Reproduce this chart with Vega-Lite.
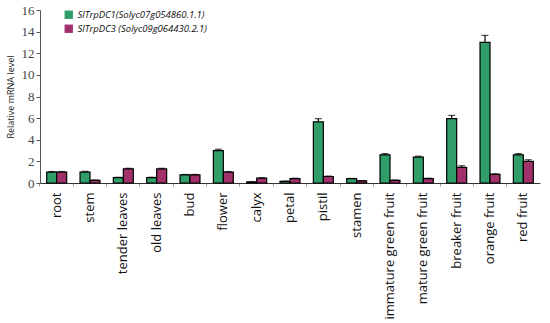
{
  "$schema": "https://vega.github.io/schema/vega-lite/v6.json",
  "width": 500,
  "height": 173,
  "autosize": {"type": "none"},
  "padding": {"left": 40, "top": 10, "right": 10, "bottom": 140},
  "background": "white",
  "config": {
    "view": {"stroke": null},
    "axisY": {
      "titleFont": "Open Sans",
      "titleFontSize": 9,
      "titleFontWeight": "normal",
      "titleColor": "#222",
      "titlePadding": 6,
      "grid": false,
      "labelOverlap": false,
      "labelFont": "Liberation Serif",
      "labelFontSize": 13,
      "labelColor": "#444",
      "tickSize": 4,
      "tickColor": "#555",
      "domainColor": "#555"
    }
  },
  "data": {
    "values": [
      {"tissue": "root", "gene": "SlTrpDC1(Solyc07g054860.1.1)", "value": 1.0, "err": 0.06},
      {"tissue": "root", "gene": "SlTrpDC3 (Solyc09g064430.2.1)", "value": 1.0, "err": 0.06},
      {"tissue": "stem", "gene": "SlTrpDC1(Solyc07g054860.1.1)", "value": 1.0, "err": 0.08},
      {"tissue": "stem", "gene": "SlTrpDC3 (Solyc09g064430.2.1)", "value": 0.25, "err": 0.03},
      {"tissue": "tender leaves", "gene": "SlTrpDC1(Solyc07g054860.1.1)", "value": 0.5, "err": 0.03},
      {"tissue": "tender leaves", "gene": "SlTrpDC3 (Solyc09g064430.2.1)", "value": 1.3, "err": 0.06},
      {"tissue": "old leaves", "gene": "SlTrpDC1(Solyc07g054860.1.1)", "value": 0.5, "err": 0.03},
      {"tissue": "old leaves", "gene": "SlTrpDC3 (Solyc09g064430.2.1)", "value": 1.3, "err": 0.06},
      {"tissue": "bud", "gene": "SlTrpDC1(Solyc07g054860.1.1)", "value": 0.75, "err": 0.04},
      {"tissue": "bud", "gene": "SlTrpDC3 (Solyc09g064430.2.1)", "value": 0.75, "err": 0.04},
      {"tissue": "flower", "gene": "SlTrpDC1(Solyc07g054860.1.1)", "value": 3.0, "err": 0.12},
      {"tissue": "flower", "gene": "SlTrpDC3 (Solyc09g064430.2.1)", "value": 1.0, "err": 0.06},
      {"tissue": "calyx", "gene": "SlTrpDC1(Solyc07g054860.1.1)", "value": 0.1, "err": 0.02},
      {"tissue": "calyx", "gene": "SlTrpDC3 (Solyc09g064430.2.1)", "value": 0.45, "err": 0.04},
      {"tissue": "petal", "gene": "SlTrpDC1(Solyc07g054860.1.1)", "value": 0.15, "err": 0.02},
      {"tissue": "petal", "gene": "SlTrpDC3 (Solyc09g064430.2.1)", "value": 0.4, "err": 0.04},
      {"tissue": "pistil", "gene": "SlTrpDC1(Solyc07g054860.1.1)", "value": 5.65, "err": 0.3},
      {"tissue": "pistil", "gene": "SlTrpDC3 (Solyc09g064430.2.1)", "value": 0.6, "err": 0.04},
      {"tissue": "stamen", "gene": "SlTrpDC1(Solyc07g054860.1.1)", "value": 0.4, "err": 0.02},
      {"tissue": "stamen", "gene": "SlTrpDC3 (Solyc09g064430.2.1)", "value": 0.2, "err": 0.02},
      {"tissue": "immature green fruit", "gene": "SlTrpDC1(Solyc07g054860.1.1)", "value": 2.6, "err": 0.12},
      {"tissue": "immature green fruit", "gene": "SlTrpDC3 (Solyc09g064430.2.1)", "value": 0.25, "err": 0.03},
      {"tissue": "mature green fruit", "gene": "SlTrpDC1(Solyc07g054860.1.1)", "value": 2.4, "err": 0.08},
      {"tissue": "mature green fruit", "gene": "SlTrpDC3 (Solyc09g064430.2.1)", "value": 0.4, "err": 0.04},
      {"tissue": "breaker fruit", "gene": "SlTrpDC1(Solyc07g054860.1.1)", "value": 5.95, "err": 0.3},
      {"tissue": "breaker fruit", "gene": "SlTrpDC3 (Solyc09g064430.2.1)", "value": 1.45, "err": 0.15},
      {"tissue": "orange fruit", "gene": "SlTrpDC1(Solyc07g054860.1.1)", "value": 13.0, "err": 0.65},
      {"tissue": "orange fruit", "gene": "SlTrpDC3 (Solyc09g064430.2.1)", "value": 0.8, "err": 0.05},
      {"tissue": "red fruit", "gene": "SlTrpDC1(Solyc07g054860.1.1)", "value": 2.6, "err": 0.12},
      {"tissue": "red fruit", "gene": "SlTrpDC3 (Solyc09g064430.2.1)", "value": 2.0, "err": 0.15}
    ]
  },
  "transform": [{"calculate": "datum.value + datum.err", "as": "hi"}],
  "encoding": {
    "x": {
      "field": "tissue",
      "type": "nominal",
      "sort": null,
      "scale": {"paddingInner": 0, "paddingOuter": 0},
      "axis": {
        "title": null,
        "bandPosition": 0,
        "labelAngle": -90,
        "labelAlign": "right",
        "labelBaseline": "middle",
        "labelFont": "Open Sans",
        "labelFontSize": 13,
        "labelColor": "#111",
        "labelPadding": 6,
        "labelBound": false,
        "labelOverlap": false,
        "tickSize": 3,
        "tickColor": "#999",
        "domainColor": "#333",
        "domainWidth": 1
      }
    },
    "xOffset": {
      "field": "gene",
      "type": "nominal",
      "sort": null,
      "scale": {"paddingOuter": 0.67, "paddingInner": 0}
    }
  },
  "layer": [
    {
      "mark": {"type": "bar", "stroke": "black", "strokeWidth": 1.2},
      "encoding": {
        "y": {
          "field": "value",
          "type": "quantitative",
          "scale": {"domain": [0, 16]},
          "axis": {"title": "Relative mRNA level", "values": [0, 2, 4, 6, 8, 10, 12, 14, 16]}
        },
        "color": {
          "field": "gene",
          "type": "nominal",
          "sort": null,
          "scale": {"range": ["#2f9e68", "#a1306b"]},
          "legend": {
            "title": null,
            "orient": "none",
            "legendX": 24,
            "legendY": 0,
            "symbolType": "square",
            "symbolSize": 70,
            "symbolStrokeWidth": 0,
            "labelFont": "Open Sans",
            "labelFontStyle": "italic",
            "labelFontSize": 9.5,
            "labelColor": "#111",
            "labelLimit": 300,
            "rowPadding": 3
          }
        }
      }
    },
    {
      "mark": {"type": "rule", "color": "black", "strokeWidth": 1.2},
      "encoding": {
        "y": {"field": "value", "type": "quantitative", "axis": {"title": "Relative mRNA level", "values": [0, 2, 4, 6, 8, 10, 12, 14, 16]}},
        "y2": {"field": "hi"}
      }
    },
    {
      "mark": {"type": "tick", "color": "black", "thickness": 1.2, "size": 7},
      "encoding": {
        "y": {"field": "hi", "type": "quantitative", "axis": {"title": "Relative mRNA level", "values": [0, 2, 4, 6, 8, 10, 12, 14, 16]}}
      }
    }
  ]
}
